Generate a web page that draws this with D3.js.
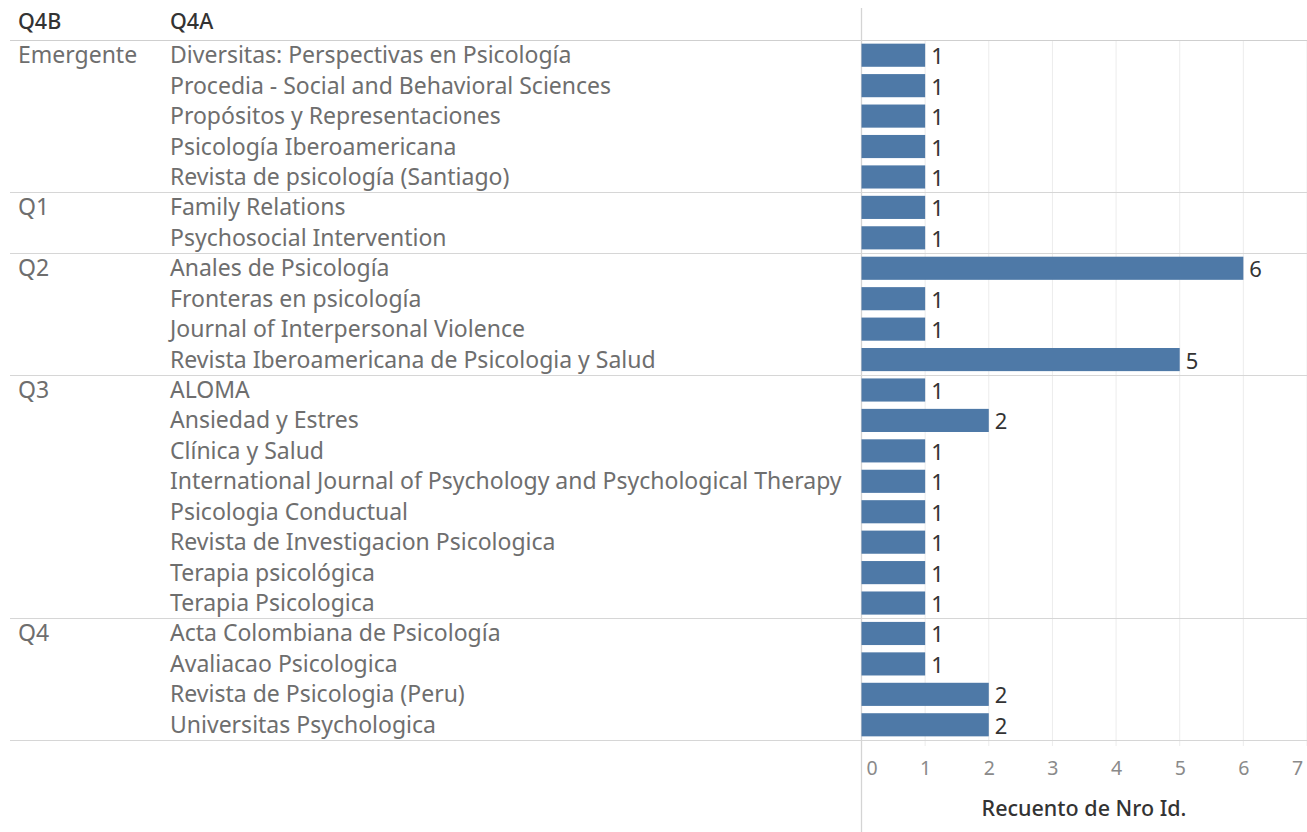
<!DOCTYPE html>
<html><head><meta charset="utf-8">
<script src="https://cdn.jsdelivr.net/npm/d3@7"></script>
<style>body{margin:0;background:#fff}svg{display:block}</style>
</head><body>
<svg id="c" width="1307" height="832"></svg>
<script>
const groups = ["Emergente","Emergente","Emergente","Emergente","Emergente","Q1","Q1","Q2","Q2","Q2","Q2","Q3","Q3","Q3","Q3","Q3","Q3","Q3","Q3","Q4","Q4","Q4","Q4"];
const journals = ["Diversitas: Perspectivas en Psicología","Procedia - Social and Behavioral Sciences","Propósitos y Representaciones","Psicología Iberoamericana","Revista de psicología (Santiago)","Family Relations","Psychosocial Intervention","Anales de Psicología","Fronteras en psicología","Journal of Interpersonal Violence","Revista Iberoamericana de Psicologia y Salud","ALOMA","Ansiedad y Estres","Clínica y Salud","International Journal of Psychology and Psychological Therapy","Psicologia Conductual","Revista de Investigacion Psicologica","Terapia psicológica","Terapia Psicologica","Acta Colombiana de Psicología","Avaliacao Psicologica","Revista de Psicologia (Peru)","Universitas Psychologica"];
const counts = [1,1,1,1,1,1,1,6,1,1,5,1,2,1,1,1,1,1,1,1,1,2,2];
const xTicks = [0,1,2,3,4,5,6,7];
const headers = ["Q4B","Q4A"];
const axisTitle = "Recuento de Nro Id.";

const FONT = "'Noto Sans', sans-serif";
const svg = d3.select("#c");
const ids = d3.range(journals.length);
const y = d3.scaleBand().domain(ids).range([40,740]).paddingInner(0.24).paddingOuter(0.12);
const step = y.step();
const x = d3.scaleLinear().domain([0,7]).range([861.5,1307]);

// gridlines
svg.append("g").selectAll("line").data(xTicks.slice(1)).join("line")
  .attr("x1",d=>x(d)).attr("x2",d=>x(d)).attr("y1",40).attr("y2",746)
  .attr("stroke","#ececec").attr("stroke-width",1);

// group separators
const groupNames = Array.from(new Set(groups));
const groupStart = groupNames.map(g=>groups.indexOf(g));
const sepY = groupStart.map(i=>40 + i*step).concat([740]);
svg.append("g").selectAll("line").data(sepY).join("line")
  .attr("x1",10).attr("x2",1307).attr("y1",d=>Math.round(d)+0.5).attr("y2",d=>Math.round(d)+0.5)
  .attr("stroke",(d,i)=>i===0?"#cfcfcf":"#d6d6d6").attr("stroke-width",1.2);

// axis vertical line
svg.append("line").attr("x1",861.5).attr("x2",861.5).attr("y1",8).attr("y2",832)
  .attr("stroke","#d4d4d4").attr("stroke-width",1.3);

// headers
svg.append("g").selectAll("text").data(headers).join("text")
  .attr("x",(d,i)=>i===0?18:170).attr("y",29)
  .attr("font-family",FONT).attr("font-size",21.5).attr("font-weight",500).attr("fill","#333")
  .text(d=>d);

// group labels
svg.append("g").selectAll("text").data(groupNames).join("text")
  .attr("x",18).attr("y",(d,i)=>40 + groupStart[i]*step + step/2 + 8)
  .attr("font-family",FONT).attr("font-size",23).attr("fill","#6e6e6e").text(d=>d);

// journal labels
svg.append("g").selectAll("text").data(ids).join("text")
  .attr("x",170).attr("y",d=>y(d)+y.bandwidth()/2+8)
  .attr("font-family",FONT).attr("font-size",23).attr("fill","#6e6e6e").text(d=>journals[d]);

// bars
svg.append("g").selectAll("rect").data(ids).join("rect")
  .attr("x",x(0)).attr("y",d=>y(d)).attr("width",d=>x(counts[d])-x(0)).attr("height",y.bandwidth())
  .attr("fill","#4e79a7");

// value labels
svg.append("g").selectAll("text").data(ids).join("text")
  .attr("x",d=>x(counts[d])+6).attr("y",d=>y(d)+y.bandwidth()/2+9)
  .attr("font-family",FONT).attr("font-size",22).attr("fill","#333").text(d=>counts[d]);

// x axis
const ax = svg.append("g").attr("transform","translate(0,740)")
  .call(d3.axisBottom(x).tickValues(xTicks).tickSize(0).tickPadding(21).tickFormat(d3.format("d")));
ax.select(".domain").remove();
ax.selectAll("text").attr("font-family",FONT).attr("font-size",19.5).attr("fill","#8a8a8a")
  .attr("x",d=>d===0?10:(d===7?-10:0));

svg.append("text").attr("x",1084).attr("y",816).attr("text-anchor","middle")
  .attr("font-family",FONT).attr("font-size",21.5).attr("font-weight",500).attr("fill","#333").text(axisTitle);
</script>
</body></html>
